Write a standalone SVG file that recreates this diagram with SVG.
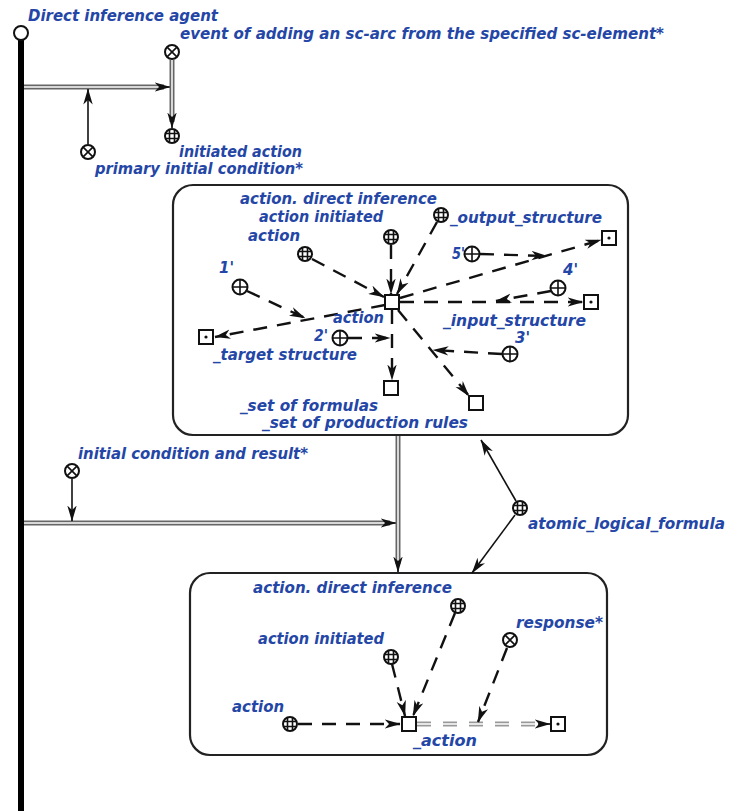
<svg xmlns="http://www.w3.org/2000/svg" xmlns:xlink="http://www.w3.org/1999/xlink" width="745" height="811" viewBox="0 0 745 811">
<style>
text{font-family:"DejaVu Sans","Liberation Sans",Arial,sans-serif;font-weight:bold;font-style:italic;font-size:15px;fill:#2446a6}
.n{fill:#fff;stroke:#111;stroke-width:2}
.nl{stroke:#111;stroke-width:1.6;fill:none}
.box{fill:#fff;stroke:#222;stroke-width:2.2}
.thin{stroke:#111;stroke-width:1.6;fill:none}
.dash{stroke:#111;stroke-width:2.4;fill:none;stroke-dasharray:14 10}
.gOut{stroke:#666;stroke-width:5;fill:none}
.gIn{stroke:#d8d8d8;stroke-width:2;fill:none}
.ddOut{stroke:#999;stroke-width:5;fill:none;stroke-dasharray:14 12}
.ddIn{stroke:#fff;stroke-width:1.6;fill:none;stroke-dasharray:14 12}
</style>
<defs>
<marker id="ah" viewBox="0 0 16 10" refX="15.5" refY="5" markerWidth="16" markerHeight="10" orient="auto" markerUnits="userSpaceOnUse"><path d="M0,0.3 L16,5 L0,9.7 L4.5,5 z" fill="#111"/></marker>
<g id="xc"><circle class="n" r="7"/><path class="nl" d="M-4.9,-4.9 L4.9,4.9 M-4.9,4.9 L4.9,-4.9"/></g>
<g id="pc"><circle class="n" r="7.5"/><path class="nl" d="M-7.5,0 H7.5 M0,-7.5 V7.5"/></g>
<g id="gc"><circle class="n" r="7"/><path class="nl" stroke-width="1.2" d="M-7,-2.5 H7 M-7,2.5 H7 M-2.5,-7 V7 M2.5,-7 V7"/></g>
<g id="sq"><rect class="n" x="-7" y="-7" width="14" height="14"/></g>
<g id="dsq"><rect class="n" x="-7" y="-7" width="14" height="14"/><circle r="1.6" fill="#111"/></g>
</defs>
<rect width="745" height="811" fill="#fff"/>

<g id="upper_box">
<rect class="box" x="173" y="185" width="455" height="250" rx="20"/>
</g>
<g id="lower_box">
<rect class="box" x="190" y="573" width="417" height="182" rx="20"/>
</g>

<g id="connectors">
<path class="gOut" d="M24,87 H164"/><path class="gIn" d="M24,87 H164"/>
<path class="thin" d="M162,87 H170" marker-end="url(#ah)"/>
<path class="gOut" d="M172,60 V122"/><path class="gIn" d="M172,60 V122"/>
<path class="thin" d="M172,120 V128" marker-end="url(#ah)"/>
<path class="thin" d="M88,144 V89" marker-end="url(#ah)"/>
<path class="dash" d="M312,259 L384,297" marker-end="url(#ah)"/>
<path class="dash" d="M391,245 V294" marker-end="url(#ah)"/>
<path class="dash" d="M437,222 L397,294" marker-end="url(#ah)"/>
<path class="dash" d="M385,305 L215,337" marker-end="url(#ah)"/>
<path class="dash" d="M247,291 L305,318" marker-end="url(#ah)"/>
<path class="dash" d="M348,338 L390,338" marker-end="url(#ah)"/>
<path class="dash" d="M392,310 V380" marker-end="url(#ah)"/>
<path class="dash" d="M398,310 L469,396" marker-end="url(#ah)"/>
<path class="dash" d="M502,354 L433,350" marker-end="url(#ah)"/>
<path class="dash" d="M400,302 H583" marker-end="url(#ah)"/>
<path class="dash" d="M551,291 L496,301" marker-end="url(#ah)"/>
<path class="dash" d="M400,298 L601,240" marker-end="url(#ah)"/>
<path class="dash" d="M480,254 L547,256" marker-end="url(#ah)"/>
<path class="gOut" d="M24,523 H390"/><path class="gIn" d="M24,523 H390"/>
<path class="thin" d="M388,523 H396" marker-end="url(#ah)"/>
<path class="gOut" d="M398,436 V564"/><path class="gIn" d="M398,436 V564"/>
<path class="thin" d="M398,562 V572" marker-end="url(#ah)"/>
<path class="thin" d="M72,479 V521" marker-end="url(#ah)"/>
<path class="thin" d="M516,501 L481,440" marker-end="url(#ah)"/>
<path class="thin" d="M515,515 L472,573" marker-end="url(#ah)"/>
<path class="dash" d="M298,724 H400" marker-end="url(#ah)"/>
<path class="dash" d="M392,664 L405,716" marker-end="url(#ah)"/>
<path class="dash" d="M455,613 L413,716" marker-end="url(#ah)"/>
<path class="ddOut" d="M417,724 H546"/><path class="ddIn" d="M417,724 H546"/>
<path class="thin" d="M538,724 H550" marker-end="url(#ah)"/>
<path class="dash" d="M507,648 L478,722" marker-end="url(#ah)"/>
</g>

<g id="agent">
<line x1="21" y1="40" x2="21" y2="811" stroke="#000" stroke-width="6"/>
<circle cx="21" cy="33" r="7" fill="#fff" stroke="#111" stroke-width="2"/>
<text x="28" y="21" textLength="190" lengthAdjust="spacingAndGlyphs">Direct inference agent</text>
</g>
<g id="event"><use xlink:href="#xc" x="172" y="52"/><text x="180" y="39" textLength="484" lengthAdjust="spacingAndGlyphs">event of adding an sc-arc from the specified sc-element*</text></g>
<g id="initiated_action"><use xlink:href="#gc" x="172" y="136"/><text x="179" y="157" textLength="123" lengthAdjust="spacingAndGlyphs">initiated action</text></g>
<g id="primary_initial_condition"><use xlink:href="#xc" x="88" y="152"/><text x="95" y="174" textLength="208" lengthAdjust="spacingAndGlyphs">primary initial condition*</text></g>

<g id="u_direct_inference"><use xlink:href="#gc" x="441" y="215"/><text x="240" y="204" textLength="197" lengthAdjust="spacingAndGlyphs">action. direct inference</text></g>
<g id="u_action_initiated"><use xlink:href="#gc" x="391" y="237"/><text x="259" y="222" textLength="124" lengthAdjust="spacingAndGlyphs">action initiated</text></g>
<g id="u_action_class"><use xlink:href="#gc" x="305" y="254"/><text x="248" y="241" textLength="52" lengthAdjust="spacingAndGlyphs">action</text></g>
<g id="u_output_label"><text x="450" y="223" textLength="152" lengthAdjust="spacingAndGlyphs">_output_structure</text></g>
<g id="u_action"><use xlink:href="#sq" x="392" y="302"/><text x="333" y="323" textLength="51" lengthAdjust="spacingAndGlyphs">action</text></g>
<g id="u_r1"><use xlink:href="#pc" x="240" y="287"/><text x="219" y="273">1'</text></g>
<g id="u_r2"><use xlink:href="#pc" x="340" y="338"/><text x="314" y="341" font-size="14" textLength="14" lengthAdjust="spacingAndGlyphs">2'</text></g>
<g id="u_r3"><use xlink:href="#pc" x="510" y="354"/><text x="515" y="343">3'</text></g>
<g id="u_r4"><use xlink:href="#pc" x="558" y="288"/><text x="563" y="275">4'</text></g>
<g id="u_r5"><use xlink:href="#pc" x="472" y="254"/><text x="452" y="259" textLength="13" lengthAdjust="spacingAndGlyphs">5'</text></g>
<g id="u_output"><use xlink:href="#dsq" x="609" y="238"/></g>
<g id="u_input"><use xlink:href="#dsq" x="591" y="302"/><text x="443" y="326" textLength="143" lengthAdjust="spacingAndGlyphs">_input_structure</text></g>
<g id="u_target"><use xlink:href="#dsq" x="206" y="337"/><text x="213" y="360" textLength="144" lengthAdjust="spacingAndGlyphs">_target structure</text></g>
<g id="u_formulas"><use xlink:href="#sq" x="391" y="388"/><text x="240" y="411" textLength="138" lengthAdjust="spacingAndGlyphs">_set of formulas</text></g>
<g id="u_rules"><use xlink:href="#sq" x="476" y="403"/><text x="262" y="428" textLength="206" lengthAdjust="spacingAndGlyphs">_set of production rules</text></g>

<g id="initial_condition"><use xlink:href="#xc" x="72" y="471"/><text x="78" y="459" textLength="230" lengthAdjust="spacingAndGlyphs">initial condition and result*</text></g>
<g id="atomic_logical_formula"><use xlink:href="#gc" x="520" y="508"/><text x="528" y="529" textLength="197" lengthAdjust="spacingAndGlyphs">atomic_logical_formula</text></g>

<g id="l_direct_inference"><use xlink:href="#gc" x="458" y="606"/><text x="253" y="593" textLength="199" lengthAdjust="spacingAndGlyphs">action. direct inference</text></g>
<g id="l_action_initiated"><use xlink:href="#gc" x="391" y="657"/><text x="258" y="644" textLength="126" lengthAdjust="spacingAndGlyphs">action initiated</text></g>
<g id="l_action_class"><use xlink:href="#gc" x="290" y="724"/><text x="232" y="712" textLength="52" lengthAdjust="spacingAndGlyphs">action</text></g>
<g id="l_action"><use xlink:href="#sq" x="409" y="724"/><text x="413" y="746" textLength="64" lengthAdjust="spacingAndGlyphs">_action</text></g>
<g id="l_response"><use xlink:href="#xc" x="510" y="640"/><text x="516" y="628" textLength="87" lengthAdjust="spacingAndGlyphs">response*</text></g>
<g id="l_result"><use xlink:href="#dsq" x="558" y="724"/></g>
</svg>
